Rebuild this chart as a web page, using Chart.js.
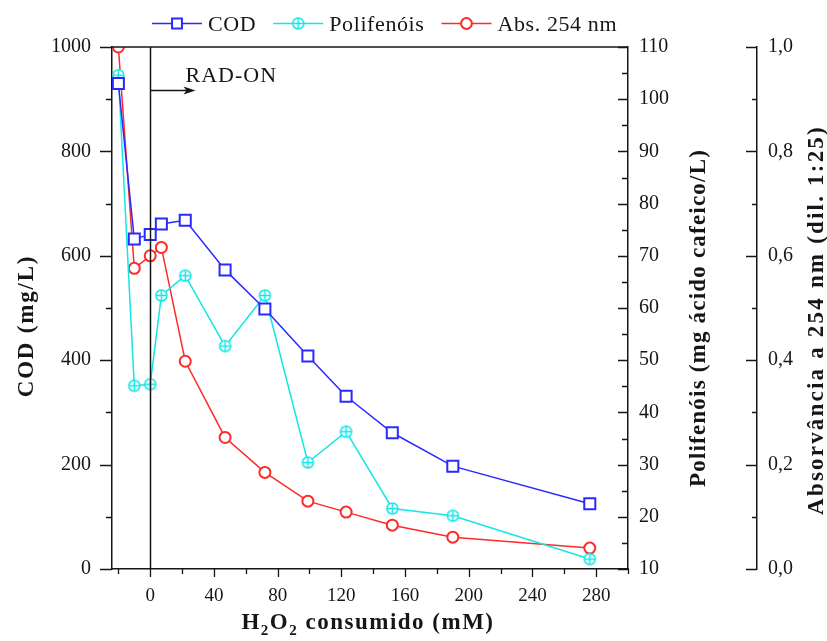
<!DOCTYPE html>
<html>
<head>
<meta charset="utf-8">
<script src="https://cdn.jsdelivr.net/npm/chart.js@4.4.1/dist/chart.umd.min.js"></script>
<style>
  html, body { margin: 0; padding: 0; background: #fff; }
  canvas { display: block; }
</style>
</head>
<body>
<canvas id="chart" width="827" height="641"></canvas>
<script>
// H2O2 consumido (mM) em cada amostra
const h2o2 = [-20, -10, 0, 7, 22, 47, 72, 99, 123, 152, 190, 276];
// COD (mg/L)
const cod = [930, 632, 641, 661, 668, 573, 498, 408, 331, 261, 197, 125];
// Polifenóis (mg ácido cafeico/L)
const polifenois = [104.6, 45.1, 45.4, 62.4, 66.2, 52.7, 62.4, 30.4, 36.3, 21.6, 20.2, 11.9];
// Absorvância a 254 nm
const abs254 = [1.0, 0.576, 0.600, 0.616, 0.398, 0.252, 0.185, 0.130, 0.109, 0.084, 0.061, 0.040];

// tick values (major carry labels)
const xMajor = [0, 40, 80, 120, 160, 200, 240, 280];
const xMinor = [-20, 20, 60, 100, 140, 180, 220, 260, 300];
const codMajor = [0, 200, 400, 600, 800, 1000];
const codMinor = [100, 300, 500, 700, 900];
const poliMajor = [10, 20, 30, 40, 50, 60, 70, 80, 90, 100, 110];
const poliMinor = [15, 25, 35, 45, 55, 65, 75, 85, 95, 105];
const absMajor = [0, 0.2, 0.4, 0.6, 0.8, 1.0];
const absMinor = [0.1, 0.3, 0.5, 0.7, 0.9];

const serif = '"Liberation Serif", "Times New Roman", serif';
const ink = '#161616';
const blue = '#2a2aff';
const cyan = '#14e6e6';
const red = '#ff2a2a';

// circle with a cross inside, used for the polyphenol markers
function plusCircle(r, color) {
    const c = document.createElement('canvas');
    const s = Math.ceil(r * 2 + 4);
    c.width = c.height = s;
    const g = c.getContext('2d');
    const m = s / 2;
    g.fillStyle = '#fff';
    g.strokeStyle = color;
    g.lineWidth = 1.5;
    g.beginPath();
    g.arc(m, m, r, 0, Math.PI * 2);
    g.fill();
    g.stroke();
    g.beginPath();
    g.moveTo(m - r, m); g.lineTo(m + r, m);
    g.moveTo(m, m - r); g.lineTo(m, m + r);
    g.stroke();
    return c;
}
const cyanMarker = plusCircle(5.5, cyan);

function fixedTicks(values) {
    return scale => { scale.ticks = values.map(v => ({ value: v })); };
}

function yAxis(position, min, max, major, width, padding, fmt) {
    return {
        type: 'linear',
        position: position,
        min: min,
        max: max,
        afterBuildTicks: fixedTicks(major),
        afterFit: s => { s.width = width; },
        grid: { display: false, drawTicks: false },
        border: { color: ink, width: 1.5 },
        ticks: {
            font: { family: serif, size: 20 },
            color: ink,
            padding: padding,
            callback: fmt
        }
    };
}

// minor/major tick marks, drawn by hand so they can point inward or outward
function tickMarks(ctx, scale, values, len, side) {
    ctx.beginPath();
    values.forEach(v => {
        const p = Math.round(scale.getPixelForValue(v)) + 0.5;
        if (side === 'down') {
            ctx.moveTo(p, scale.top);
            ctx.lineTo(p, scale.top + len);
        } else {
            const x0 = side === 'leftOfRight' ? scale.right : scale.left;
            ctx.moveTo(x0, p);
            ctx.lineTo(x0 - len, p);
        }
    });
    ctx.stroke();
}

function rotatedTitle(ctx, str, x, y, spacing) {
    ctx.save();
    ctx.translate(x, y);
    ctx.rotate(-Math.PI / 2);
    ctx.letterSpacing = spacing + 'px';
    ctx.textAlign = 'center';
    ctx.textBaseline = 'alphabetic';
    ctx.fillText(str, 0, 0);
    ctx.restore();
}

const decor = {
    id: 'decor',
    // keep markers inside the frame
    beforeDatasetDraw(chart) {
        const a = chart.chartArea;
        chart.ctx.save();
        chart.ctx.beginPath();
        chart.ctx.rect(a.left, a.top, a.right - a.left, a.bottom - a.top);
        chart.ctx.clip();
    },
    afterDatasetDraw(chart) {
        chart.ctx.restore();
    },
    afterDatasetsDraw(chart) {
        const ctx = chart.ctx;
        const area = chart.chartArea;
        const x = chart.scales.x;
        const x0 = Math.round(x.getPixelForValue(0)) + 0.5;

        ctx.save();
        ctx.strokeStyle = ink;
        ctx.fillStyle = ink;
        ctx.lineWidth = 1.5;
        // irradiation start marker
        ctx.beginPath();
        ctx.moveTo(x0, area.top);
        ctx.lineTo(x0, area.bottom);
        ctx.stroke();

        const ay = area.top + 43.5;
        const tip = x0 + 45;
        ctx.beginPath();
        ctx.moveTo(x0, ay);
        ctx.lineTo(tip - 8, ay);
        ctx.stroke();
        ctx.beginPath();
        ctx.moveTo(tip, ay);
        ctx.lineTo(tip - 12, ay - 4);
        ctx.lineTo(tip - 9, ay);
        ctx.lineTo(tip - 12, ay + 4);
        ctx.closePath();
        ctx.fill();

        ctx.font = '22px ' + serif;
        ctx.letterSpacing = '1px';
        ctx.textBaseline = 'alphabetic';
        ctx.fillText('RAD-ON', x0 + 35, area.top + 35);
        ctx.restore();
    },
    afterDraw(chart) {
        const ctx = chart.ctx;
        const area = chart.chartArea;
        const s = chart.scales;

        ctx.save();
        ctx.strokeStyle = ink;
        ctx.lineWidth = 1.5;
        // top frame line
        ctx.beginPath();
        ctx.moveTo(area.left, area.top);
        ctx.lineTo(area.right, area.top);
        ctx.stroke();

        ctx.lineWidth = 1.3;
        tickMarks(ctx, s.x, xMajor, 8, 'down');
        tickMarks(ctx, s.x, xMinor, 5, 'down');
        tickMarks(ctx, s.y, codMajor, 12, 'leftOfRight');
        tickMarks(ctx, s.y, codMinor, 6, 'leftOfRight');
        tickMarks(ctx, s.y2, poliMajor, 10, 'leftOfLeft');
        tickMarks(ctx, s.y2, poliMinor, 6, 'leftOfLeft');
        tickMarks(ctx, s.y3, absMajor, 11, 'leftOfLeft');
        tickMarks(ctx, s.y3, absMinor, 5, 'leftOfLeft');

        // axis titles
        ctx.fillStyle = ink;
        ctx.font = 'bold 23px ' + serif;
        const midY = (area.top + area.bottom) / 2;
        rotatedTitle(ctx, 'COD (mg/L)', 33, midY + 18, 1.8);
        rotatedTitle(ctx, 'Polifenóis (mg ácido cafeico/L)', s.y2.left + 77, midY + 10, 1.2);
        rotatedTitle(ctx, 'Absorvância a 254 nm (dil. 1:25)', s.y3.left + 66, midY + 12, 2.2);

        // H2O2 consumido (mM) with subscripts
        const parts = [['H', 23, 0], ['2', 15, 6], ['O', 23, 0], ['2', 15, 6], [' consumido (mM)', 23, 0]];
        ctx.letterSpacing = '1.5px';
        ctx.textBaseline = 'alphabetic';
        ctx.textAlign = 'left';
        let total = 0;
        parts.forEach(p => {
            ctx.font = 'bold ' + p[1] + 'px ' + serif;
            total += ctx.measureText(p[0]).width;
        });
        let tx = (area.left + area.right) / 2 - 2 - total / 2;
        parts.forEach(p => {
            ctx.font = 'bold ' + p[1] + 'px ' + serif;
            ctx.fillText(p[0], tx, 629 + p[2]);
            tx += ctx.measureText(p[0]).width;
        });

        // legend: line - marker - line, then the series name
        ctx.font = '22px ' + serif;
        ctx.letterSpacing = '0.6px';
        let lx = 152;
        const ly = 23.5;
        chart.data.datasets.forEach(ds => {
            ctx.strokeStyle = ds.borderColor;
            ctx.lineWidth = 1.5;
            ctx.beginPath();
            ctx.moveTo(lx, ly);
            ctx.lineTo(lx + 50, ly);
            ctx.stroke();
            ctx.fillStyle = '#fff';
            ctx.lineWidth = 2;
            Chart.helpers.drawPoint(ctx, {
                pointStyle: ds.pointStyle,
                radius: ds.pointStyle === 'rect' ? 7 : 5.4,
                borderWidth: 2,
                rotation: 0
            }, lx + 25, ly);
            ctx.fillStyle = ink;
            ctx.fillText(ds.label, lx + 56, 31);
            lx += 56 + ctx.measureText(ds.label).width + 17;
        });
        ctx.restore();
    }
};

function series(label, values, axisId, color, style, radius) {
    return {
        label: label,
        data: h2o2.map((x, i) => ({ x: x, y: values[i] })),
        yAxisID: axisId,
        borderColor: color,
        borderWidth: 1.5,
        pointStyle: style,
        pointRadius: radius,
        pointBorderWidth: 2,
        pointBorderColor: color,
        pointBackgroundColor: '#fff',
        tension: 0,
        clip: 0
    };
}

new Chart(document.getElementById('chart'), {
    type: 'line',
    data: {
        datasets: [
            series('COD', cod, 'y', blue, 'rect', 7.8),
            series('Polifenóis', polifenois, 'y2', cyan, cyanMarker, 5.5),
            series('Abs. 254 nm', abs254, 'y3', red, 'circle', 5.5)
        ]
    },
    options: {
        responsive: false,
        animation: false,
        devicePixelRatio: 1,
        layout: { padding: { top: 47, left: 0, right: 0, bottom: 0 } },
        plugins: {
            legend: { display: false },
            tooltip: { enabled: false }
        },
        scales: {
            x: {
                type: 'linear',
                position: 'bottom',
                min: -24,
                max: 300,
                afterBuildTicks: fixedTicks(xMajor),
                afterFit: s => { s.height = 72; },
                grid: { display: false, drawTicks: false },
                border: { color: ink, width: 1.5 },
                ticks: {
                    font: { family: serif, size: 19 },
                    color: ink,
                    padding: 16,
                    maxRotation: 0,
                    autoSkip: false,
                    callback: v => String(v)
                }
            },
            y: yAxis('left', 0, 1000, codMajor, 112, 21, v => String(v)),
            y2: yAxis('right', 10, 110, poliMajor, 129, 11, v => String(v)),
            y3: yAxis('right', 0, 1, absMajor, 70, 11, v => v.toFixed(1).replace('.', ','))
        }
    },
    plugins: [decor]
});
</script>
</body>
</html>
